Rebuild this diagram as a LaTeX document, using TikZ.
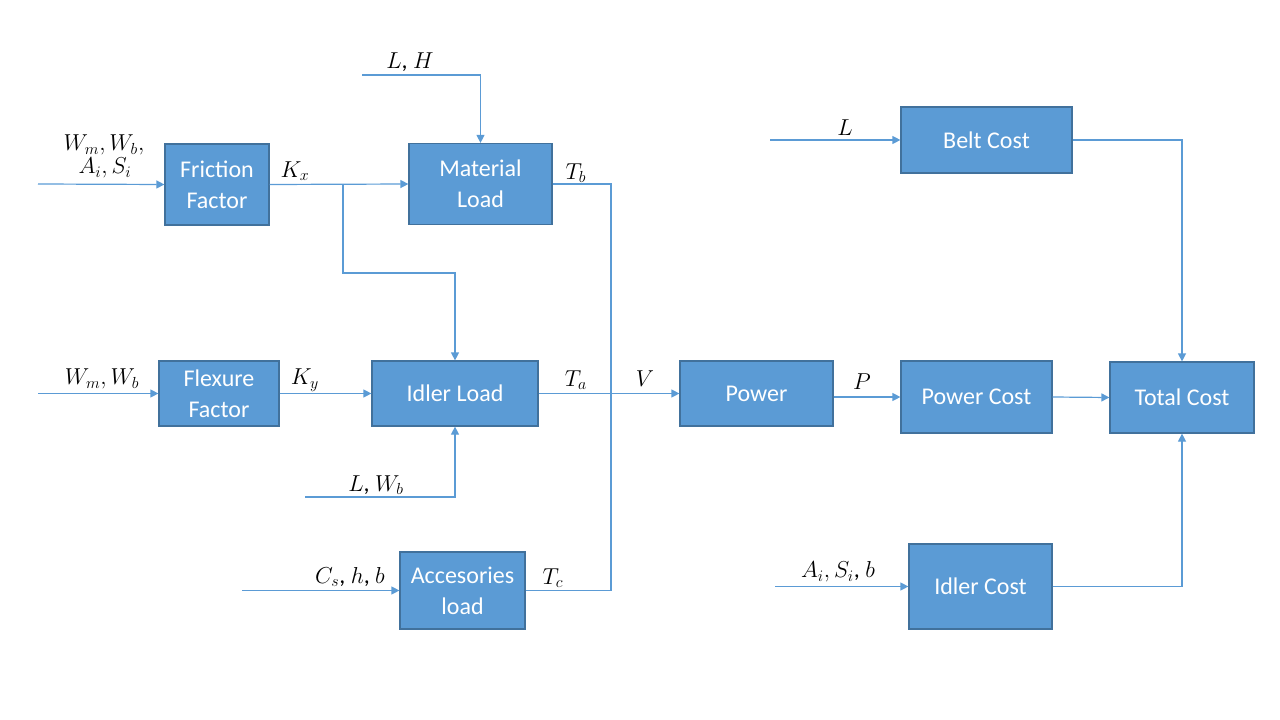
\documentclass[tikz,border=0pt]{standalone}
\usepackage{fontspec}
\setmainfont{Carlito}
\usetikzlibrary{arrows.meta}
\definecolor{boxfill}{HTML}{5B9BD5}
\definecolor{boxline}{HTML}{41719C}
\begin{document}
\begin{tikzpicture}[x=0.75pt,y=-0.75pt,
  blk/.style={draw=boxline,line width=0.9pt,fill=boxfill,text=white,align=center,
    font=\fontsize{18}{21}\selectfont,inner sep=0pt},
  lbl/.style={font=\fontsize{18}{21}\selectfont,inner sep=0pt,align=center},
  conn/.style={draw=boxfill,line width=0.9pt},
  arr/.style={conn,-{Triangle[length=6pt,width=6pt]}}]
\useasboundingbox (0,0) rectangle (1280,720);

% blocks
\node[blk,minimum width=78pt,minimum height=60.75pt] (fric) at (217,184.5) {Friction\\[2pt]Factor};
\node[blk,minimum width=107.25pt,minimum height=60.75pt] (mat) at (480.5,184) {Material\\[2pt]Load};
\node[blk,minimum width=90pt,minimum height=48.75pt] (flex) at (219,393.5) {Flexure\\[2pt]Factor};
\node[blk,minimum width=124.5pt,minimum height=48.75pt] (idl) at (455,393.5) {Idler Load};
\node[blk,minimum width=93.75pt,minimum height=57.75pt] (acc) at (462.5,590.5) {Accesories\\[2pt]load};
\node[blk,minimum width=114.75pt,minimum height=48.75pt] (pow) at (756.5,393.5) {Power};
\node[blk,minimum width=113.25pt,minimum height=54pt] (pcost) at (976.5,397) {Power Cost};
\node[blk,minimum width=128.25pt,minimum height=49.5pt] (bcost) at (986.5,140) {Belt Cost};
\node[blk,minimum width=108pt,minimum height=53.25pt] (tcost) at (1182,397.5) {Total Cost};
\node[blk,minimum width=107.25pt,minimum height=63.75pt] (icost) at (980.5,586.5) {Idler Cost};

% free ends
\coordinate (in1) at (38,184);
\coordinate (in2) at (38,393.5);
\coordinate (in3) at (242,590.5);
\coordinate (inLH) at (362,75);
\coordinate (inLW) at (305,497);
\coordinate (inL) at (770,140);
\coordinate (inASb) at (775,586.5);
\coordinate (kxb) at (343,184);
\coordinate (bus) at (611,393.5);

% labels
\node[lbl] (lWmWb1) at (104,145) {$W_m,W_b,$};
\node[lbl] (lAiSi) at (105,168) {$A_i,S_i$};
\node[lbl] (lKx) at (295,171) {$K_x$};
\node[lbl] (lLH) at (410,62) {$L$, $H$};
\node[lbl] (lTb) at (576,173) {$T_b$};
\node[lbl] (lWmWb2) at (102,379) {$W_m,W_b$};
\node[lbl] (lKy) at (305,380) {$K_y$};
\node[lbl] (lTa) at (576,380) {$T_a$};
\node[lbl] (lV) at (645,379) {$V$};
\node[lbl] (lLWb) at (376,485) {$L$, $W_b$};
\node[lbl] (lCs) at (350,577) {$C_s$, $h$, $b$};
\node[lbl] (lTc) at (553,578) {$T_c$};
\node[lbl] (lL) at (845,128) {$L$};
\node[lbl] (lP) at (862,382) {$P$};
\node[lbl] (lASb) at (838,572) {$A_i,S_i$, $b$};

% connectors
\draw[arr] (in1) -- (fric.west);
\draw[arr] (fric.east) -- (mat.west);
\draw[arr] (kxb) |- (343,273) -| (idl.north);
\draw[arr] (inLH) -| (mat.north);
\draw[arr] (in2) -- (flex.west);
\draw[arr] (flex.east) -- (idl.west);
\draw[arr] (inLW) -| (idl.south);
\draw[arr] (in3) -- (acc.west);
\draw[conn] (mat.east) -| (bus);
\draw[conn] (acc.east) -| (bus);
\draw[arr] (idl.east) -- (pow.west);
\draw[arr] (pcost.west -| pow.east) -- (pcost.west);
\draw[arr] (pcost.east) -- (tcost.west);
\draw[arr] (inL) -- (bcost.west);
\draw[arr] (bcost.east) -| (tcost.north);
\draw[arr] (inASb) -- (icost.west);
\draw[arr] (icost.east) -| (tcost.south);
\end{tikzpicture}
\end{document}
